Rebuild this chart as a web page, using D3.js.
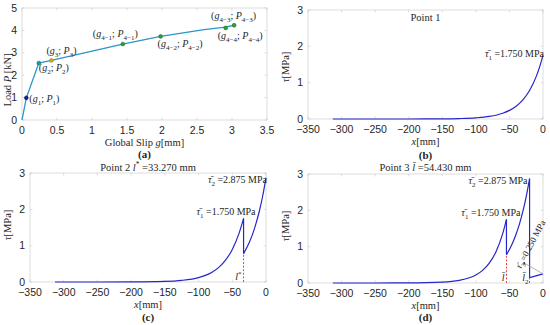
<!DOCTYPE html>
<html>
<head>
<meta charset="utf-8">
<script src="https://cdn.jsdelivr.net/npm/d3@7"></script>
<style>
  body { margin: 0; background: #fff; }
  svg { display: block; }
  .tick-lbl { font-family: "Liberation Sans", Arial, sans-serif; font-size: 10.5px; fill: #262626; }
  .serif { font-family: "Liberation Serif", "DejaVu Serif", serif; fill: #262626; }
</style>
</head>
<body>
<div id="chart"></div>
<script>
// (a) load - slip curve
var slipLineG = [0, 0.062, 0.24, 0.42, 1.44, 1.98, 2.6, 2.91, 3.03];
var loadLineP = [0, 0.99, 2.54, 2.66, 3.39, 3.73, 4.03, 4.15, 4.23];
var markerNames = ["(|g|_{1}; |P|_{1})", "(|g|_{2}; |P|_{2})", "(|g|_{3}; |P|_{3})",
  "(|g|_{4−1}; |P|_{4−1})", "(|g|_{4−2}; |P|_{4−2})", "(|g|_{4−4}; |P|_{4−4})", "(|g|_{4−3}; |P|_{4−3})"];
var markerG = [0.062, 0.24, 0.42, 1.44, 1.98, 2.91, 3.03];
var markerP = [0.99, 2.54, 2.66, 3.39, 3.73, 4.11, 4.23];
var markerColors = ["#0b1f8a", "#1b9aa6", "#c9b420", "#2f9e3a", "#2f9e3a", "#2f9e3a", "#2f9e3a"];
var markerLabelDx = [3, 0, -5, -30, -3, -8, -23];
var markerLabelDy = [4, 8, -6, -7, 11, 11, -6];
var slipTicks = [0, 0.5, 1, 1.5, 2, 2.5, 3, 3.5];
var loadTicks = [0, 1, 2, 3, 4, 5];

// (b)-(d) shear stress along x
var xTicks = [-350, -300, -250, -200, -150, -100, -50, 0];
var tauTicks = [0, 1, 2, 3];

var xB1 = [-313, -250, -200, -150, -125, -100, -80, -60, -50, -40, -30, -20, -10, -5, 0];
var tauB1 = [0, 0.0002, 0.0006, 0.004, 0.012, 0.032, 0.071, 0.159, 0.237, 0.353, 0.527, 0.786, 1.173, 1.433, 1.75];

var xC1 = [-313, -250, -200, -150, -125, -100, -90, -80, -70, -60, -50, -40, -33.27];
var tauC1 = [0, 0.0003, 0.002, 0.016, 0.045, 0.121, 0.181, 0.27, 0.403, 0.601, 0.896, 1.337, 1.75];
var xC2 = [-33.27, -25, -20, -15, -10, -5, 0];
var tauC2 = [0.78, 1.08, 1.31, 1.60, 1.94, 2.36, 2.875];

var xD1 = [-313, -250, -200, -150, -125, -100, -90, -80, -70, -60, -54.43];
var tauD1 = [0, 0.0002, 0.0023, 0.023, 0.071, 0.22, 0.347, 0.547, 0.862, 1.358, 1.75];
var xD2 = [-54.43, -50, -45, -40, -35, -30, -25, -20];
var tauD2 = [0.78, 0.923, 1.115, 1.348, 1.628, 1.969, 2.379, 2.875];
var xD3 = [-20, 0];
var tauD3 = [0.15, 0.25];

var svg = d3.select("#chart").append("svg")
  .attr("width", 550)
  .attr("height", 325);

// parse "|x|" italic, "_{..}" sub, "^{..}" sup into tspans
function rich(textSel, str, size) {
  var re = /\|([^|]+)\||_\{([^}]*)\}|\^\{([^}]*)\}|([^|_^]+)/g;
  var shift = 0, m;
  textSel.attr("font-size", size);
  while ((m = re.exec(str))) {
    var ts = textSel.append("tspan");
    var target = 0;
    if (m[1]) { ts.text(m[1]).style("font-style", "italic"); }
    else if (m[2] !== undefined) { ts.text(m[2]).attr("font-size", size * 0.7); target = size * 0.3; }
    else if (m[3] !== undefined) { ts.text(m[3]).attr("font-size", size * 0.7); target = -size * 0.4; }
    else { ts.text(m[4]); }
    if (target - shift !== 0) ts.attr("dy", target - shift);
    shift = target;
  }
  return textSel;
}

function panel(cfg) {
  var x = d3.scaleLinear().domain(cfg.xDomain).range([cfg.left, cfg.right]);
  var y = d3.scaleLinear().domain(cfg.yDomain).range([cfg.bottom, cfg.top]);
  var g = svg.append("g");

  g.append("rect")
    .attr("x", cfg.left).attr("y", cfg.top)
    .attr("width", cfg.right - cfg.left).attr("height", cfg.bottom - cfg.top)
    .attr("fill", "none").attr("stroke", "#d4d4d4").attr("stroke-width", 0.8);

  cfg.xTicks.forEach(function(t) {
    g.append("line").attr("x1", x(t)).attr("x2", x(t)).attr("y1", cfg.bottom).attr("y2", cfg.bottom - 2.5)
      .attr("stroke", "#c8c8c8").attr("stroke-width", 0.6);
    g.append("line").attr("x1", x(t)).attr("x2", x(t)).attr("y1", cfg.top).attr("y2", cfg.top + 2.5)
      .attr("stroke", "#c8c8c8").attr("stroke-width", 0.6);
    g.append("text").attr("class", "tick-lbl")
      .attr("x", x(t)).attr("y", cfg.bottom + 13.5)
      .attr("text-anchor", "middle")
      .text(d3.format(cfg.xFmt)(t).replace("-", "−"));
  });
  cfg.yTicks.forEach(function(t) {
    g.append("line").attr("x1", cfg.left).attr("x2", cfg.left + 2.5).attr("y1", y(t)).attr("y2", y(t))
      .attr("stroke", "#c8c8c8").attr("stroke-width", 0.6);
    g.append("line").attr("x1", cfg.right).attr("x2", cfg.right - 2.5).attr("y1", y(t)).attr("y2", y(t))
      .attr("stroke", "#c8c8c8").attr("stroke-width", 0.6);
    g.append("text").attr("class", "tick-lbl")
      .attr("x", cfg.left - 5).attr("y", y(t) + 3.5)
      .attr("text-anchor", "end")
      .text(t);
  });

  rich(g.append("text").attr("class", "serif")
    .attr("x", (cfg.left + cfg.right) / 2).attr("y", cfg.bottom + 25.5)
    .attr("text-anchor", "middle"), cfg.xLabel, 10.5);

  rich(g.append("text").attr("class", "serif")
    .attr("transform", "translate(" + cfg.yLabelX + "," + cfg.yLabelY + ") rotate(-90)")
    .attr("text-anchor", "middle"), cfg.yLabel, 10.5);

  g.append("text").attr("class", "serif")
    .attr("x", (cfg.left + cfg.right) / 2).attr("y", cfg.captionY)
    .attr("text-anchor", "middle")
    .attr("font-size", 11).attr("font-weight", "bold")
    .text(cfg.caption);

  if (cfg.title) {
    rich(g.append("text").attr("class", "serif")
      .attr("x", (cfg.left + cfg.right) / 2).attr("y", cfg.titleY)
      .attr("text-anchor", "middle"), cfg.title, 10.5);
  }
  return { g: g, x: x, y: y };
}

// ---- panel (a)
var pa = panel({
  left: 22, right: 267, top: 8, bottom: 120,
  xDomain: [0, 3.5], yDomain: [0, 5],
  xTicks: slipTicks, yTicks: loadTicks, xFmt: "",
  xLabel: "Global Slip |g|[mm]", yLabel: "Load |P| [kN]",
  yLabelX: 11, yLabelY: 80, caption: "(a)", captionY: 157.5
});

var lineA = d3.line().x(function(d) { return pa.x(d[0]); }).y(function(d) { return pa.y(d[1]); });
pa.g.append("path")
  .datum(d3.zip(slipLineG, loadLineP))
  .attr("d", lineA)
  .attr("fill", "none").attr("stroke", "#2b96c8").attr("stroke-width", 1.3);

markerG.forEach(function(gv, i) {
  var cx = pa.x(gv), cy = pa.y(markerP[i]);
  pa.g.append("circle").attr("cx", cx).attr("cy", cy).attr("r", 1.9)
    .attr("fill", markerColors[i]).attr("stroke", d3.color(markerColors[i]).darker(1)).attr("stroke-width", 0.6);
  rich(pa.g.append("text").attr("class", "serif")
    .attr("x", cx + markerLabelDx[i]).attr("y", cy + markerLabelDy[i]), markerNames[i], 10);
});

// ---- tau panels
function tauPanel(opts) {
  var p = panel({
    left: opts.left, right: opts.right, top: opts.top, bottom: opts.bottom,
    xDomain: [-350, 0], yDomain: [0, 3],
    xTicks: xTicks, yTicks: tauTicks, xFmt: "d",
    xLabel: "|x|[mm]", yLabel: "|τ|[MPa]",
    yLabelX: opts.left - 19, yLabelY: opts.yLabelY,
    caption: opts.caption, captionY: opts.captionY,
    title: opts.title, titleY: opts.titleY
  });
  var curve = d3.line().curve(d3.curveMonotoneX)
    .x(function(d) { return p.x(d[0]); }).y(function(d) { return p.y(d[1]); });
  var straight = d3.line().x(function(d) { return p.x(d[0]); }).y(function(d) { return p.y(d[1]); });
  opts.segs.forEach(function(s, i) {
    var pts = d3.zip(s[0], s[1]);
    p.g.append("path").datum(pts).attr("d", curve)
      .attr("fill", "none").attr("stroke", "#2727c9").attr("stroke-width", 1.2);
    if (i > 0) {
      var prev = opts.segs[i - 1];
      var a = [prev[0][prev[0].length - 1], prev[1][prev[1].length - 1]];
      var b = [s[0][0], s[1][0]];
      // red dashed marker of the debonded point
      p.g.append("line").attr("x1", p.x(b[0])).attr("x2", p.x(b[0]))
        .attr("y1", p.y(0)).attr("y2", p.y(b[1]))
        .attr("stroke", "#f03c3c").attr("stroke-width", 1).attr("stroke-dasharray", "2,1.6");
      p.g.append("path").datum([a, b]).attr("d", straight)
        .attr("fill", "none").attr("stroke", "#2727c9").attr("stroke-width", 1.2);
    }
  });
  return p;
}

var pb = tauPanel({
  left: 308, right: 543, top: 10, bottom: 119, yLabelY: 67,
  caption: "(b)", captionY: 158.5, segs: [[xB1, tauB1]]
});
pb.g.append("text").attr("class", "serif").attr("x", (308 + 543) / 2).attr("y", 21)
  .attr("text-anchor", "middle").attr("font-size", 10.5).text("Point 1");
rich(pb.g.append("text").attr("class", "serif").attr("text-anchor", "end")
  .attr("x", pb.x(0) + 1).attr("y", pb.y(1.75) + 2), "|τ̄|_{1} =1.750 MPa", 10);

var pc = tauPanel({
  left: 30, right: 266, top: 173, bottom: 282, yLabelY: 225,
  caption: "(c)", captionY: 320.5,
  title: "Point 2 |l|^{*} =33.270 mm", titleY: 171,
  segs: [[xC1, tauC1], [xC2, tauC2]]
});
rich(pc.g.append("text").attr("class", "serif").attr("text-anchor", "end")
  .attr("x", pc.x(0) + 1).attr("y", pc.y(2.875) + 5), "|τ̄|_{2} =2.875 MPa", 10);
rich(pc.g.append("text").attr("class", "serif").attr("text-anchor", "end")
  .attr("x", pc.x(-33.27) + 12).attr("y", pc.y(1.75) - 3), "|τ̄|_{1} =1.750 MPa", 10);
rich(pc.g.append("text").attr("class", "serif").attr("text-anchor", "end")
  .attr("x", pc.x(-33.27) - 2).attr("y", pc.y(0) - 2), "|l|^{*}", 10);

var pd = tauPanel({
  left: 308, right: 543, top: 174, bottom: 283, yLabelY: 226,
  caption: "(d)", captionY: 321,
  title: "Point 3 |l̄| =54.430 mm", titleY: 171,
  segs: [[xD1, tauD1], [xD2, tauD2], [xD3, tauD3]]
});
rich(pd.g.append("text").attr("class", "serif").attr("text-anchor", "end")
  .attr("x", pd.x(-20) - 2).attr("y", pd.y(2.875) + 5), "|τ̄|_{2} =2.875 MPa", 10);
rich(pd.g.append("text").attr("class", "serif").attr("text-anchor", "end")
  .attr("x", pd.x(-54.43) + 14).attr("y", pd.y(1.75) - 3), "|τ̄|_{1} =1.750 MPa", 10);
rich(pd.g.append("text").attr("class", "serif").attr("text-anchor", "end")
  .attr("x", pd.x(-54.43) - 2).attr("y", pd.y(0) - 2), "|l̄|", 10);
rich(pd.g.append("text").attr("class", "serif").attr("text-anchor", "end")
  .attr("x", pd.x(-20) - 1).attr("y", pd.y(0) - 2), "|l̄|_{2}", 10);
// arrow annotation for tau3
pd.g.append("line")
  .attr("x1", pd.x(-28)).attr("y1", pd.y(0.55))
  .attr("x2", pd.x(0)).attr("y2", pd.y(0.25))
  .attr("stroke", "#a0a0a0").attr("stroke-width", 0.8);
pd.g.append("circle").attr("cx", pd.x(-28)).attr("cy", pd.y(0.55)).attr("r", 1).attr("fill", "#333");
rich(pd.g.append("text").attr("class", "serif")
  .attr("transform", "translate(" + (pd.x(-33)) + "," + pd.y(0.38) + ") rotate(-62)"),
  "|τ̄|_{3} =0.250 MPa", 9);
</script>
</body>
</html>
